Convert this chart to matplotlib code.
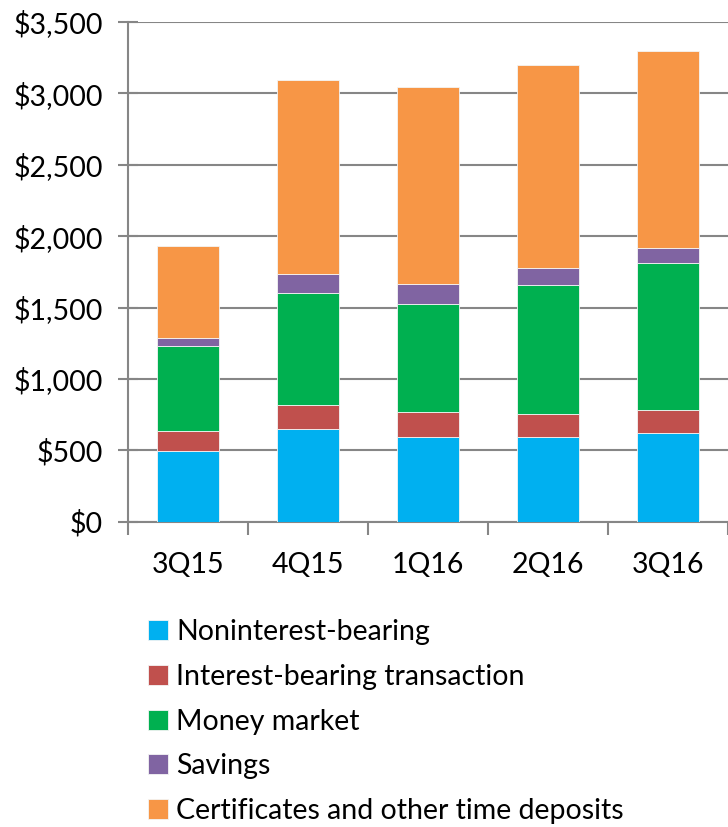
import matplotlib.pyplot as plt
import numpy as np

plt.rcParams['font.family'] = ['Lato', 'DejaVu Sans']

quarters = ['3Q15', '4Q15', '1Q16', '2Q16', '3Q16']
noninterest = [496, 648, 590, 590, 618]
interest_txn = [136, 166, 177, 161, 165]
money_market = [598, 787, 760, 909, 1028]
savings = [56, 133, 135, 120, 104]
certificates = [643, 1360, 1386, 1417, 1385]

series = [
    ('Noninterest-bearing', noninterest, '#00B0F0'),
    ('Interest-bearing transaction', interest_txn, '#C0504D'),
    ('Money market', money_market, '#00B050'),
    ('Savings', savings, '#8064A2'),
    ('Certificates and other time deposits', certificates, '#F79646'),
]

fig = plt.figure(figsize=(7.28, 8.27), dpi=100)
ax = fig.add_axes([128 / 728, 1 - 521.7 / 827, 600 / 728, 499.7 / 827])

x = np.arange(len(quarters))
bottom = np.zeros(len(quarters))
handles = []
for name, vals, col in series:
    b = ax.bar(x, vals, 0.51, bottom=bottom, color=col, edgecolor='#f4f4f4',
               linewidth=0.6, label=name, zorder=3)
    handles.append(b)
    bottom += np.array(vals)

ax.set_ylim(0, 3500)
ax.set_xlim(-0.5, 4.44)
ax.set_yticks(range(0, 3501, 500))
ax.set_yticklabels(['${:,}'.format(v) for v in range(0, 3501, 500)])
ax.set_xticks(x)
ax.set_xticklabels(quarters)
ax.set_xticks(np.arange(-0.5, 4.6, 1), minor=True)

grey = '#868686'
ax.yaxis.grid(True, color=grey, linewidth=1.5, zorder=0)
for s in ['top', 'right']:
    ax.spines[s].set_visible(False)
ax.spines['left'].set_color(grey)
ax.spines['bottom'].set_color(grey)
ax.spines['left'].set_linewidth(1.5)
ax.spines['bottom'].set_linewidth(1.5)
ax.tick_params(axis='y', direction='inout', length=14, width=1.5, color=grey,
               labelsize=20.5, pad=11)
ax.tick_params(axis='x', which='major', length=0, labelsize=20.5, pad=22)
ax.tick_params(axis='x', which='minor', direction='out', length=9, width=1.5,
               color=grey)

fig.legend(handles=handles, labels=[s[0] for s in series],
           loc='upper left', bbox_to_anchor=(148 / 728, 1 - 619 / 827),
           frameon=False, fontsize=20.5, handlelength=0.7, handleheight=0.7,
           handletextpad=0.3, labelspacing=0.66, borderpad=0, borderaxespad=0)

fig.savefig('out.png', dpi=100)
